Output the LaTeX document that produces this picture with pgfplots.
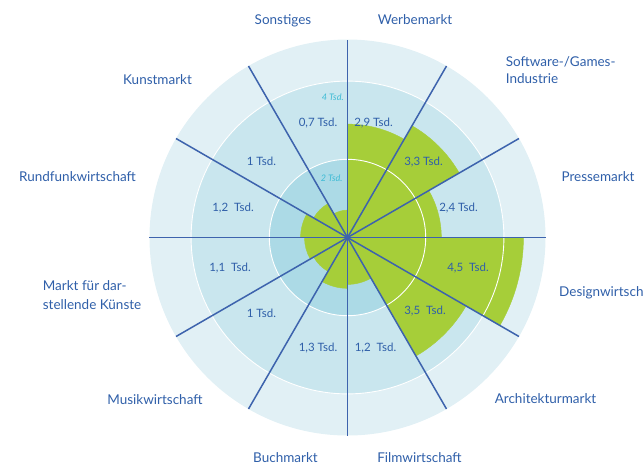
\documentclass[border=0pt]{standalone}
\usepackage{pgfplots}
\pgfplotsset{compat=1.18}
\usepackage{pgfplotstable}
\usepackage{fontspec}
\setmainfont{Lato}
\definecolor{ringA}{HTML}{E1F0F5}
\definecolor{ringB}{HTML}{C9E6EE}
\definecolor{ringC}{HTML}{ACDAE6}
\definecolor{grn}{HTML}{A6CE39}
\definecolor{lineblue}{HTML}{3D63AD}
\definecolor{txtblue}{HTML}{2F5FA9}
\definecolor{scalecyan}{HTML}{3DBBD5}

% sector mid angle (deg), value (Tsd.)
\pgfplotstableread{
a    v
75   2.9
45   3.3
15   2.4
-15  4.5
-45  3.5
-75  1.2
-105 1.3
-135 1.0
-165 1.1
165  1.2
135  1.0
105  0.7
}\sectors

\newcommand\U{39.1}
\pgfdeclareplotmark{wedge}{%
  \pgfmathsetmacro\rr{\val*\U}%
  \pgfmathsetmacro\angA{\ang-15}%
  \pgfmathsetmacro\angB{\ang+15}%
  \pgfmathsetmacro\angC{\ang+180}%
  \fill[grn] (\angC:\rr pt) -- ++(\angA:\rr pt)
     arc[start angle=\angA, end angle=\angB, radius=\rr pt] -- cycle;
}

\begin{document}
\begin{tikzpicture}
\fill[ringA] (0,0) circle[radius=198pt];
\fill[ringB] (0,0) circle[radius=156.4pt];
\fill[ringC] (0,0) circle[radius=78.2pt];
\begin{axis}[
  anchor=origin, at={(0,0)},
  x=\U pt, y=\U pt,
  xmin=-6, xmax=6, ymin=-6, ymax=6,
  hide axis, clip=false,
]
\addplot[only marks, mark=wedge,
  visualization depends on={\thisrow{a}\as\ang},
  visualization depends on={\thisrow{v}\as\val}]
  table[x expr={\thisrow{v}*cos(\thisrow{a})}, y expr={\thisrow{v}*sin(\thisrow{a})}] {\sectors};
\end{axis}
\draw[white, line width=0.9pt] (0,0) circle[radius=156.4pt] (0,0) circle[radius=78.2pt];
\foreach \t in {0,30,...,330} \draw[lineblue, line width=1.5pt] (0,0) -- (\t:198pt);

\begin{scope}[x=1pt,y=1pt,
  cat/.style={text=txtblue, font=\fontsize{13.5}{16}\selectfont, inner sep=0pt, text height=9.7pt, text depth=0pt},
  val/.style={text=txtblue, font=\fontsize{11.5}{14}\selectfont, inner sep=0pt, text height=8.25pt, text depth=0pt},
  scl/.style={text=scalecyan, font=\fontsize{9}{11}\selectfont\itshape, inner sep=0pt, text height=6.45pt, text depth=0pt}]
% category labels
\node[cat] at (-64.5,217.5) {Sonstiges};
\node[cat] at (67.5,217.5) {Werbemarkt};
\node[cat,anchor=west] at (158.2,175.5) {Software-/Games-};
\node[cat,anchor=west] at (158.2,158.5) {Industrie};
\node[cat] at (250.5,60.5) {Pressemarkt};
\node[cat,anchor=west] at (211.5,-54.5) {Designwirtschaft};
\node[cat] at (198,-161.5) {Architekturmarkt};
\node[cat] at (72,-220.5) {Filmwirtschaft};
\node[cat] at (-62,-220.5) {Buchmarkt};
\node[cat] at (-192.5,-162.5) {Musikwirtschaft};
\node[cat,anchor=west] at (-304.8,-48.5) {Markt für dar-};
\node[cat,anchor=west] at (-304.8,-67.5) {stellende Künste};
\node[cat] at (-270,60.5) {Rundfunkwirtschaft};
\node[cat] at (-190,157.5) {Kunstmarkt};
% value labels
\node[val] at (-29.5,115.5) {0,7 Tsd.};
\node[val] at (26,115.5) {2,9 Tsd.};
\node[val] at (76,76.5) {3,3 Tsd.};
\node[val] at (111,30.5) {2,4 Tsd.};
\node[val] at (120.5,-29.5) {4,5\ \ Tsd.};
\node[val] at (77.5,-72.5) {3,5\ \ Tsd.};
\node[val] at (28,-109.5) {1,2\ \ Tsd.};
\node[val] at (-29.5,-109.5) {1,3 Tsd.};
\node[val] at (-86,-75.5) {1 Tsd.};
\node[val] at (-117.5,-29.5) {1,1\ \ Tsd.};
\node[val] at (-114.5,30.5) {1,2\ \ Tsd.};
\node[val] at (-86,76.5) {1 Tsd.};
% scale labels
\node[scl] at (-14.7,140.5) {4 Tsd.};
\node[scl] at (-15.8,59.2) {2 Tsd.};
\end{scope}

\pgfresetboundingbox
\path[use as bounding box] (-347.5pt,-229.5pt) rectangle (296.5pt,237.5pt);
\end{tikzpicture}
\end{document}
